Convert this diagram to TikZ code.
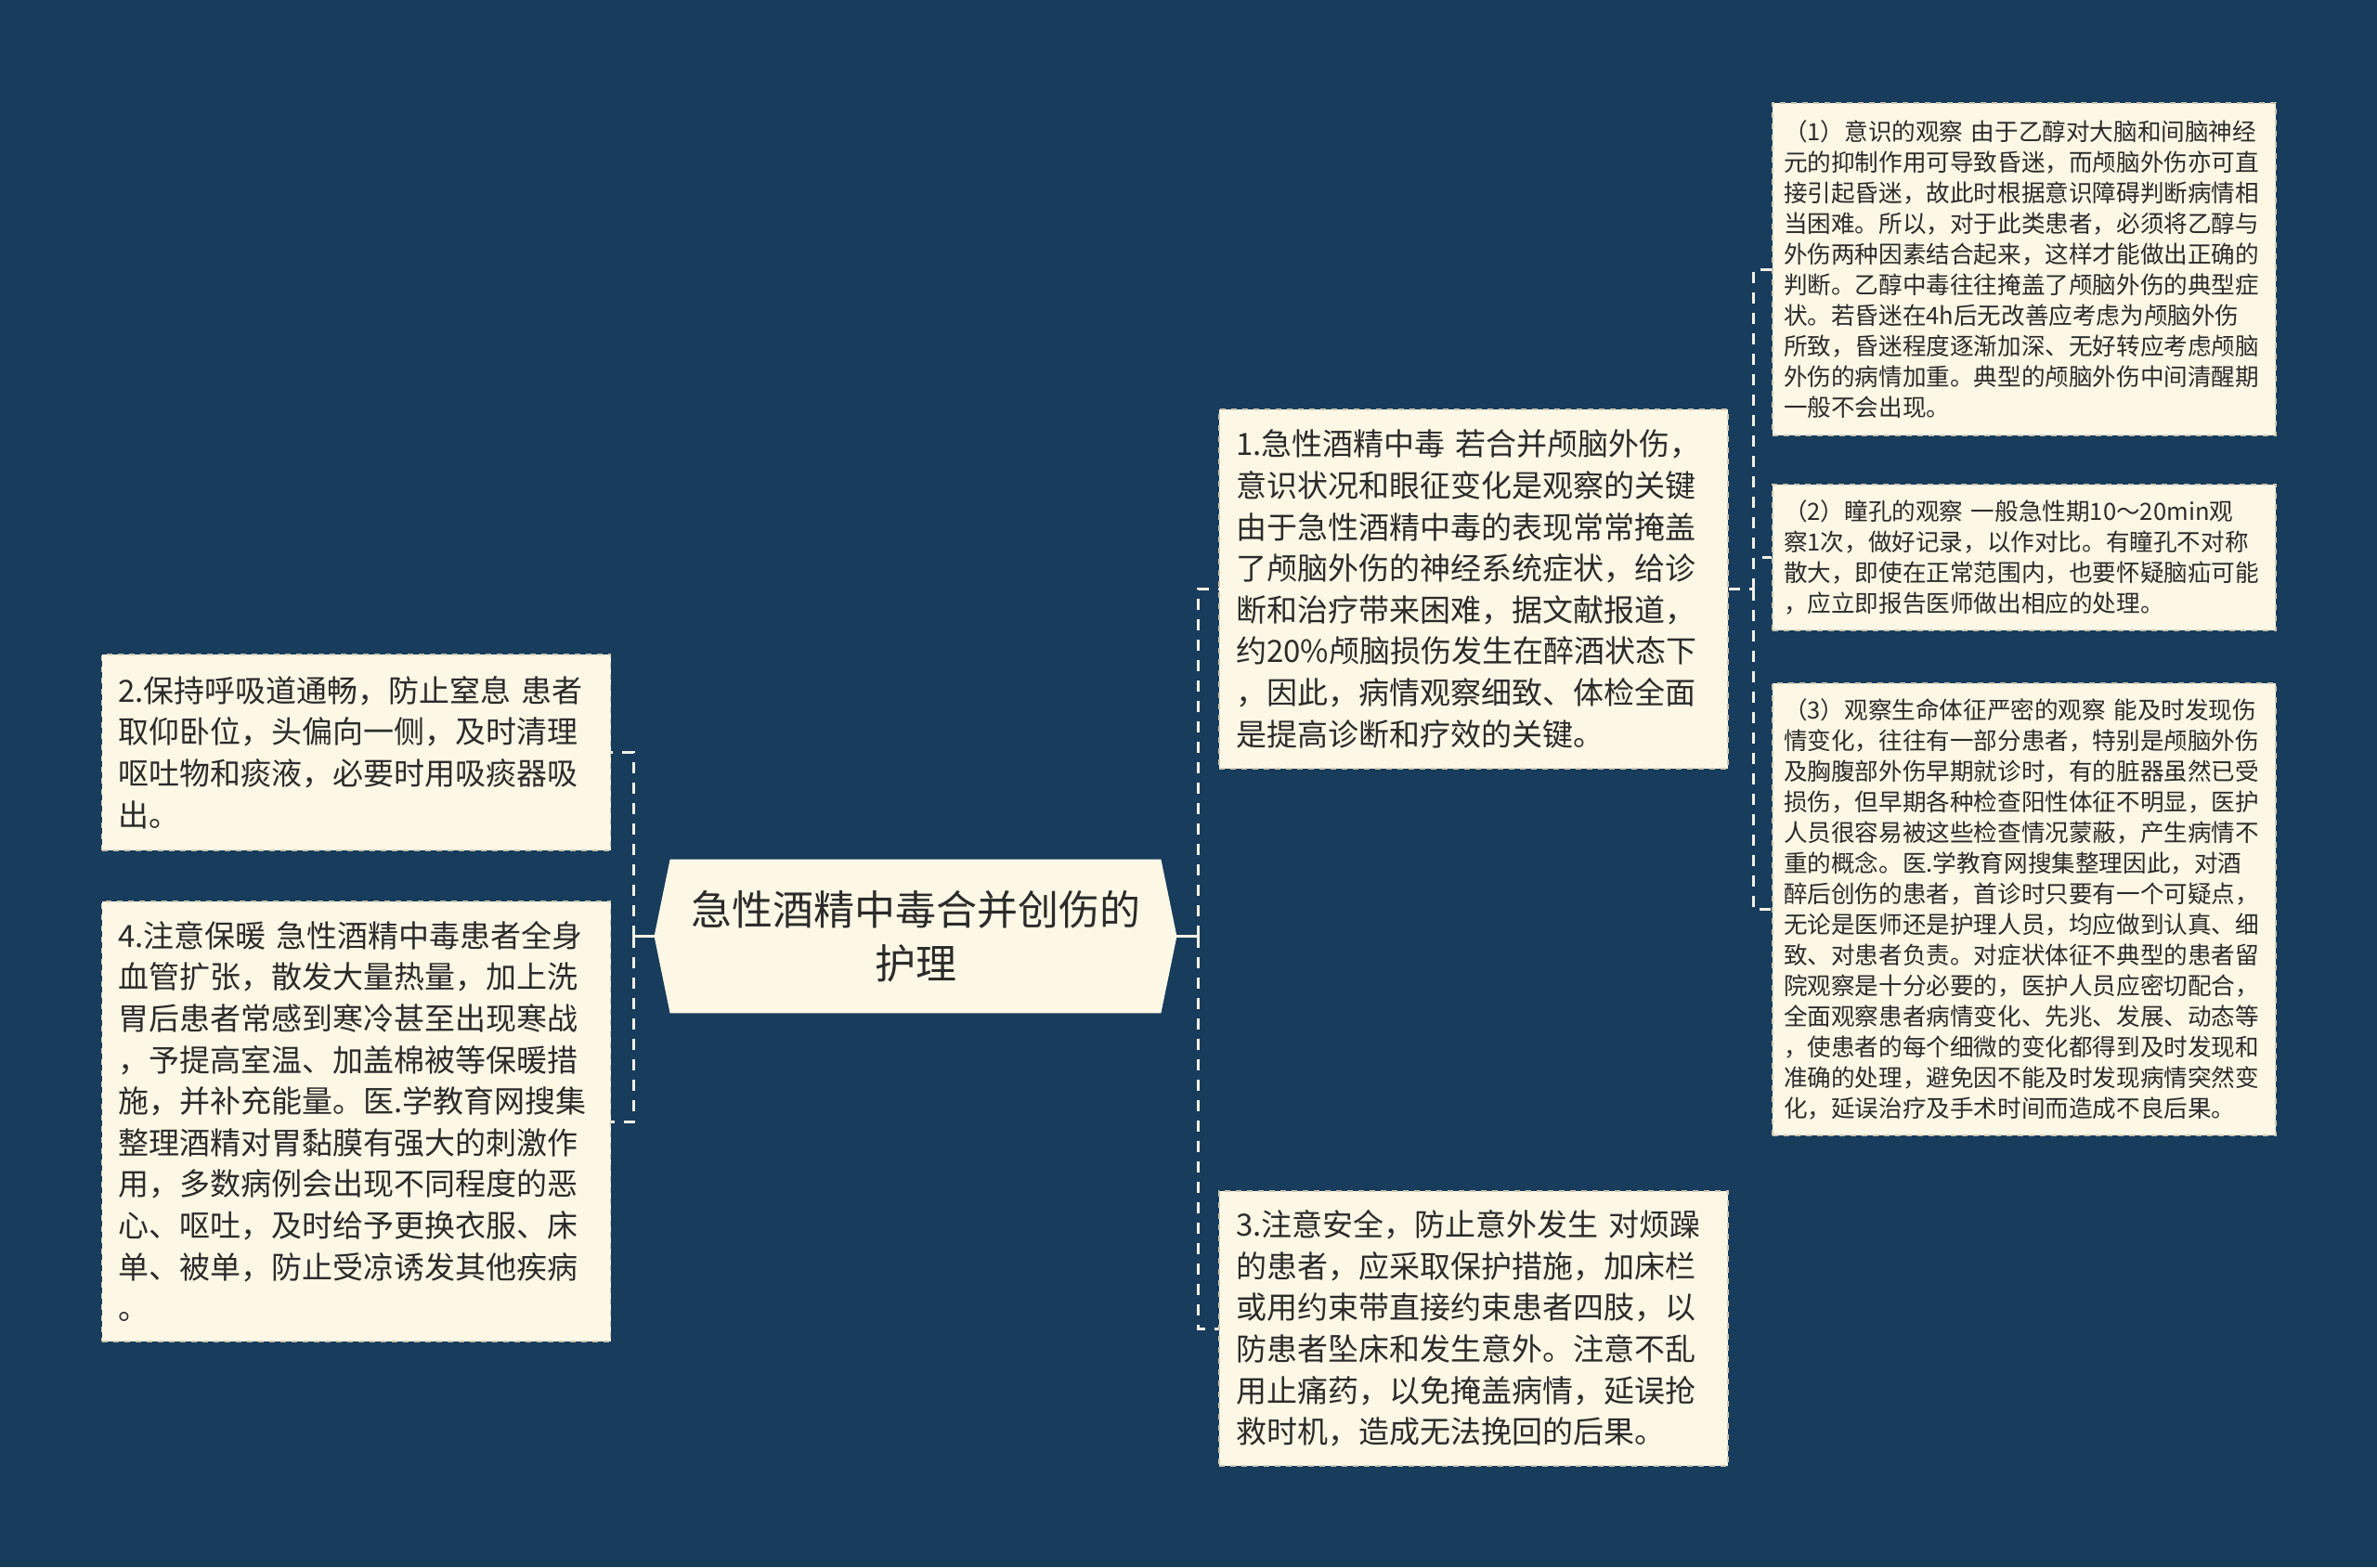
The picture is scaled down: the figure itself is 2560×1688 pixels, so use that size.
\documentclass[tikz,border=0pt]{standalone}
\usepackage{fontspec}
\setmainfont{Noto Sans CJK SC}
\usetikzlibrary{positioning,calc}
\definecolor{bgblue}{HTML}{183C5C}
\definecolor{cream}{HTML}{FCF8E5}
\definecolor{boxedge}{HTML}{CFC9B2}
\definecolor{txt}{HTML}{2B2B2B}
\definecolor{linec}{HTML}{F2F0E4}
\tikzset{
  bigbox/.style={rectangle, fill=cream, draw=boxedge, dashed, line width=0.7pt,
    text=txt, align=left, inner xsep=9pt, inner ysep=4pt, text width=256pt,
    font=\fontsize{16.5}{22.3}\selectfont},
  smallbox/.style={rectangle, fill=cream, draw=boxedge, dashed, line width=0.7pt,
    text=txt, align=left, inner xsep=6pt, inner ysep=4pt, text width=259pt,
    font=\fontsize{12.8}{16.5}\selectfont},
  rootsize/.style={rectangle, minimum width=264pt, minimum height=82.5pt, inner sep=0pt},
  roottext/.style={text=txt, align=center, font=\fontsize{22}{29}\selectfont},
  solidc/.style={draw=linec, line width=1.5pt},
  dashc/.style={draw=linec, line width=1.5pt, dash pattern=on 6pt off 5pt}
}
\begin{document}
\begin{tikzpicture}[x=0.5pt,y=-0.5pt]
\fill[bgblue] (0,0) rectangle (2560,1688);
\useasboundingbox (0,0) rectangle (2560,1688);

% root
\path (986,1008.5) node[rootsize] (root) {};
\fill[cream] (root.north west) -- (root.north east) -- ([xshift=8.5pt]root.east)
  -- (root.south east) -- (root.south west) -- ([xshift=-8.5pt]root.west) -- cycle;
\node[roottext] (rootlabel) at (root) {急性酒精中毒合并创伤的\\护理};
\coordinate (rootR) at ([xshift=8.5pt]root.east);
\coordinate (rootL) at ([xshift=-8.5pt]root.west);

% first level
\node[bigbox, minimum height=193.5pt] (b1) at (1587,634.5) {1.急性酒精中毒 若合并颅脑外伤，\\
意识状况和眼征变化是观察的关键\\
由于急性酒精中毒的表现常常掩盖\\
了颅脑外伤的神经系统症状，给诊\\
断和治疗带来困难，据文献报道，\\
约20\%颅脑损伤发生在醉酒状态下\\
，因此，病情观察细致、体检全面\\
是提高诊断和疗效的关键。};

\node[bigbox, minimum height=148pt] (b3) at (1587,1431) {3.注意安全，防止意外发生 对烦躁\\
的患者，应采取保护措施，加床栏\\
或用约束带直接约束患者四肢，以\\
防患者坠床和发生意外。注意不乱\\
用止痛药，以免掩盖病情，延误抢\\
救时机，造成无法挽回的后果。};

\node[bigbox, minimum height=105.5pt] (b2) at (383.5,810.5) {2.保持呼吸道通畅，防止窒息 患者\\
取仰卧位，头偏向一侧，及时清理\\
呕吐物和痰液，必要时用吸痰器吸\\
出。};

\node[bigbox, minimum height=237pt] (b4) at (383.5,1208) {4.注意保暖 急性酒精中毒患者全身\\
血管扩张，散发大量热量，加上洗\\
胃后患者常感到寒冷甚至出现寒战\\
，予提高室温、加盖棉被等保暖措\\
施，并补充能量。医.学教育网搜集\\
整理酒精对胃黏膜有强大的刺激作\\
用，多数病例会出现不同程度的恶\\
心、呕吐，及时给予更换衣服、床\\
单、被单，防止受凉诱发其他疾病\\
。};

% second level
\node[smallbox, minimum height=179pt] (s1) at (2180,290) {（1）意识的观察 由于乙醇对大脑和间脑神经\\
元的抑制作用可导致昏迷，而颅脑外伤亦可直\\
接引起昏迷，故此时根据意识障碍判断病情相\\
当困难。所以，对于此类患者，必须将乙醇与\\
外伤两种因素结合起来，这样才能做出正确的\\
判断。乙醇中毒往往掩盖了颅脑外伤的典型症\\
状。若昏迷在4h后无改善应考虑为颅脑外伤\\
所致，昏迷程度逐渐加深、无好转应考虑颅脑\\
外伤的病情加重。典型的颅脑外伤中间清醒期\\
一般不会出现。};

\node[smallbox, minimum height=78.5pt] (s2) at (2180,600.5) {（2）瞳孔的观察 一般急性期10～20min观\\
察1次，做好记录，以作对比。有瞳孔不对称\\
散大，即使在正常范围内，也要怀疑脑疝可能\\
，应立即报告医师做出相应的处理。};

\node[smallbox, minimum height=243.5pt] (s3) at (2180,979.5) {（3）观察生命体征严密的观察 能及时发现伤\\
情变化，往往有一部分患者，特别是颅脑外伤\\
及胸腹部外伤早期就诊时，有的脏器虽然已受\\
损伤，但早期各种检查阳性体征不明显，医护\\
人员很容易被这些检查情况蒙蔽，产生病情不\\
重的概念。医.学教育网搜集整理因此，对酒\\
醉后创伤的患者，首诊时只要有一个可疑点，\\
无论是医师还是护理人员，均应做到认真、细\\
致、对患者负责。对症状体征不典型的患者留\\
院观察是十分必要的，医护人员应密切配合，\\
全面观察患者病情变化、先兆、发展、动态等\\
，使患者的每个细微的变化都得到及时发现和\\
准确的处理，避免因不能及时发现病情突然变\\
化，延误治疗及手术时间而造成不良后果。};

% connectors right of root
\coordinate (trR) at (1290,1008.5);
\draw[solidc] (rootR) -- (trR);
\draw[solidc] ([yshift=-4pt]trR) -- ([yshift=4pt]trR);
\draw[dashc] (trR) |- (b1.west);
\draw[dashc] (trR) |- (b3.west);

% connectors left of root
\coordinate (trL) at (682,1008.5);
\draw[solidc] (rootL) -- (trL);
\draw[solidc] ([yshift=-4pt]trL) -- ([yshift=4pt]trL);
\draw[dashc] (trL) |- (b2.east);
\draw[dashc] (trL) |- (b4.east);

% connectors of box 1
\coordinate (trS) at (1888,634.5);
\draw[dashc] (b1.east) -- (trS);
\draw[dashc] (trS) |- (s1.west);
\draw[dashc] (trS) |- (s2.west);
\draw[dashc] (trS) |- (s3.west);
\end{tikzpicture}
\end{document}
